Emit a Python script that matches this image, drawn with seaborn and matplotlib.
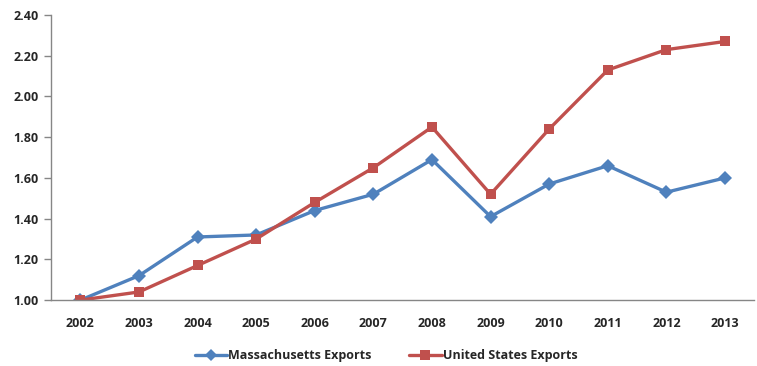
import matplotlib
matplotlib.use("Agg")
import matplotlib.pyplot as plt
import seaborn as sns
import pandas as pd
import numpy as np
from matplotlib.lines import Line2D

years = ["2002", "2003", "2004", "2005", "2006", "2007",
         "2008", "2009", "2010", "2011", "2012", "2013"]
ma_exports = [1.00, 1.12, 1.31, 1.32, 1.44, 1.52, 1.69, 1.41, 1.57, 1.66, 1.53, 1.60]
us_exports = [1.00, 1.04, 1.17, 1.30, 1.48, 1.65, 1.85, 1.52, 1.84, 2.13, 2.23, 2.27]
series_names = ["Massachusetts Exports", "United States Exports"]
y_ticks = [1.00, 1.20, 1.40, 1.60, 1.80, 2.00, 2.20, 2.40]

sns.set_style("white")
plt.rcParams["font.family"] = ["Open Sans", "DejaVu Sans"]

df = pd.DataFrame({
    "pos": list(range(len(years))) * 2,
    "value": ma_exports + us_exports,
    "series": [series_names[0]] * len(years) + [series_names[1]] * len(years),
})

fig = plt.figure(figsize=(7.57, 3.66), dpi=100)
ax = fig.add_axes([0.0674, 0.180, 0.929, 0.779])

palette = {series_names[0]: "#4F81BD", series_names[1]: "#C0504D"}
sns.lineplot(data=df, x="pos", y="value", hue="series", style="series",
             palette=palette, markers={series_names[0]: "D", series_names[1]: "s"},
             dashes=False, linewidth=2.4, markersize=7, markeredgewidth=0,
             ax=ax, legend=False)

ax.set_xlim(-0.5, len(years) - 0.5)
ax.set_ylim(1.0, 2.4)
ax.set_xlabel("")
ax.set_ylabel("")

tick_font = {"size": 9, "weight": "bold"}
ax.set_xticks(range(len(years)))
ax.set_xticklabels(years, fontdict=tick_font)
ax.set_xticks(np.arange(-0.5, len(years) + 0.5, 1.0), minor=True)
ax.tick_params(axis="x", which="major", length=0, pad=12)
ax.tick_params(axis="x", which="minor", length=5, width=1, color="#868686", direction="out")

ax.set_yticks(y_ticks)
ax.set_yticklabels([f"{v:.2f}" for v in y_ticks], fontdict=tick_font)
ax.tick_params(axis="y", length=5, width=1, color="#868686", direction="out", pad=4, left=True)

for side in ["top", "right"]:
    ax.spines[side].set_visible(False)
for side in ["left", "bottom"]:
    ax.spines[side].set_color("#868686")
    ax.spines[side].set_linewidth(1)

handles = [
    Line2D([], [], color="#4F81BD", marker="D", markersize=6, markeredgewidth=0, linewidth=2.4),
    Line2D([], [], color="#C0504D", marker="s", markersize=6.5, markeredgewidth=0, linewidth=2.4),
]
fig.legend(handles, series_names, loc="center", bbox_to_anchor=(0.51, 0.028),
           ncol=2, frameon=False, handlelength=2.6, handletextpad=0.1, columnspacing=3,
           prop={"weight": "bold", "size": 9})

fig.savefig("out.png", dpi=100)
